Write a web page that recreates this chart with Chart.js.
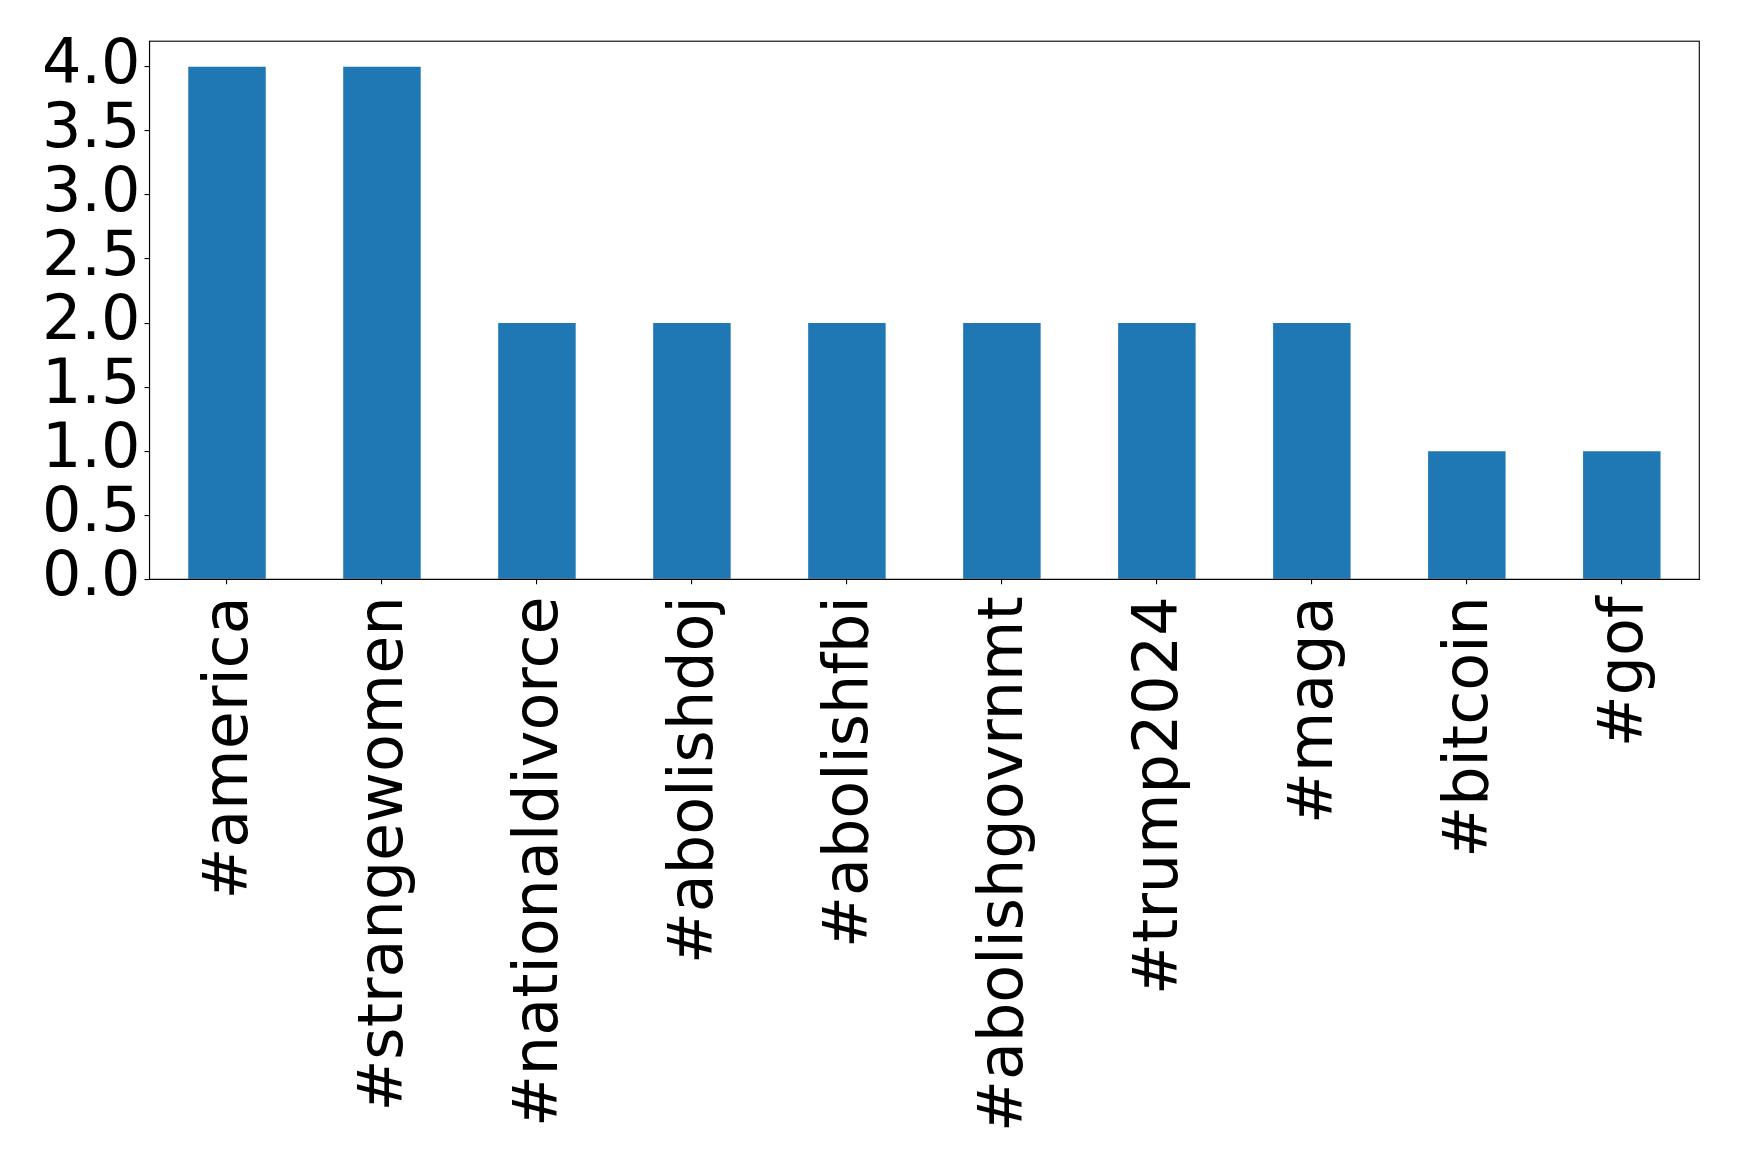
<!DOCTYPE html>
<html>
<head>
<meta charset="utf-8">
<script src="https://cdn.jsdelivr.net/npm/chart.js@4/dist/chart.umd.min.js"></script>
<style>
  html, body { margin: 0; padding: 0; background: #ffffff; }
  #wrap { width: 1739px; height: 1168px; position: relative; }
</style>
</head>
<body>
<div id="wrap"><canvas id="c" width="1739" height="1168"></canvas></div>
<script>
const categories = ["#america", "#strangewomen", "#nationaldivorce", "#abolishdoj", "#abolishfbi", "#abolishgovrnmt", "#trump2024", "#maga", "#bitcoin", "#gof"];
const counts = [4, 4, 2, 2, 2, 2, 2, 2, 1, 1];
const yTicks = [0, 0.5, 1, 1.5, 2, 2.5, 3, 3.5, 4];

const FONT = "'DejaVu Sans', sans-serif";

const framePlugin = {
  id: 'frame',
  afterDraw(chart) {
    const a = chart.chartArea, ctx = chart.ctx;
    ctx.save();
    ctx.strokeStyle = '#000';
    ctx.lineWidth = 1.1;
    ctx.strokeRect(a.left, a.top, a.right - a.left, a.bottom - a.top);
    ctx.restore();
  }
};

new Chart(document.getElementById('c'), {
  type: 'bar',
  data: {
    labels: categories,
    datasets: [{
      data: counts,
      backgroundColor: '#1f77b4',
      borderWidth: 0,
      barPercentage: 0.5,
      categoryPercentage: 1.0
    }]
  },
  options: {
    responsive: false,
    animation: false,
    devicePixelRatio: 1,
    layout: { padding: { left: 0, top: 40.7, right: 39.7, bottom: 0 } },
    plugins: { legend: { display: false }, tooltip: { enabled: false } },
    scales: {
      x: {
        grid: { display: true, drawOnChartArea: false, offset: false, tickLength: 5, color: '#000', lineWidth: 1.1 },
        border: { display: true, color: '#000', width: 1.1 },
        ticks: {
          color: '#000',
          font: { family: FONT, size: 62 },
          minRotation: 90,
          maxRotation: 90,
          autoSkip: false,
          padding: 12,
          labelOffset: 4
        },
        afterFit(scale) { scale.height = 1168 - 579.3; }
      },
      y: {
        min: 0,
        max: 4.2,
        grid: { display: true, drawOnChartArea: false, tickLength: 5, color: '#000', lineWidth: 1.1 },
        border: { display: true, color: '#000', width: 1.1 },
        ticks: {
          color: '#000',
          font: { family: FONT, size: 62 },
          padding: 4,
          autoSkip: false,
          callback: (v) => Number(v).toFixed(1)
        },
        afterBuildTicks(scale) { scale.ticks = yTicks.map(v => ({ value: v })); },
        afterFit(scale) { scale.width = 149.5; }
      }
    }
  },
  plugins: [framePlugin]
});
</script>
</body>
</html>
